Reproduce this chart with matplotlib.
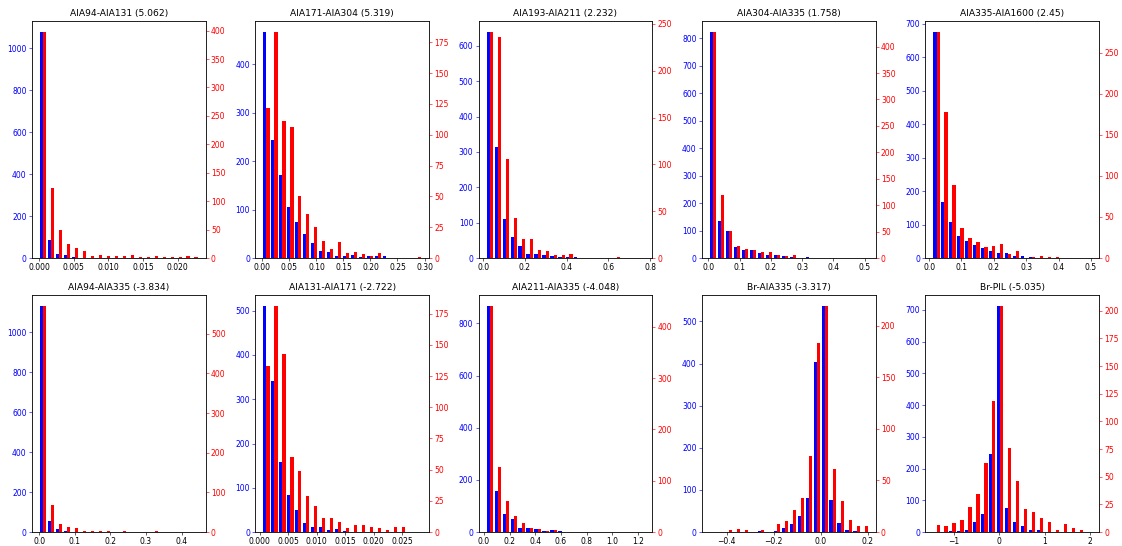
import numpy as np
import matplotlib
matplotlib.use("Agg")
import matplotlib.pyplot as plt

# Panel titles (pair name and its score)
titles = [
    "AIA94-AIA131 (5.062)", "AIA171-AIA304 (5.319)", "AIA193-AIA211 (2.232)",
    "AIA304-AIA335 (1.758)", "AIA335-AIA1600 (2.45)",
    "AIA94-AIA335 (-3.834)", "AIA131-AIA171 (-2.722)", "AIA211-AIA335 (-4.048)",
    "Br-AIA335 (-3.317)", "Br-PIL (-5.035)",
]

# Shared histogram range (20 bins) for each panel
bin_lo = [0.0, 0.0, 0.013, 0.0026, 0.0105, 0.0, 0.00049, 0.0138, -0.4738, -1.469]
bin_hi = [0.023, 0.295, 0.776, 0.512, 0.503, 0.447, 0.0284, 1.256, 0.2042, 2.035]

# Counts of the first group (left axis, blue)
blue_counts = [
    [1076, 86, 19, 14, 5, 2, 1, 1, 1, 0, 1, 0, 0, 1, 0, 0, 1, 0, 0, 0],
    [466, 244, 171, 105, 74, 49, 31, 14, 13, 4, 5, 6, 3, 5, 4, 4, 1, 1, 0, 0],
    [638, 313, 109, 60, 35, 11, 11, 8, 5, 3, 3, 2, 0, 1, 0, 0, 0, 0, 0, 0],
    [822, 134, 98, 39, 28, 30, 19, 11, 10, 7, 4, 1, 2, 0, 0, 0, 0, 0, 0, 0],
    [675, 168, 107, 66, 51, 39, 29, 21, 14, 14, 7, 5, 2, 1, 0, 0, 0, 0, 0, 0],
    [1130, 57, 15, 7, 2, 1, 0, 0, 0, 0, 0, 0, 0, 0, 0, 0, 0, 0, 0, 0],
    [510, 341, 159, 84, 50, 20, 12, 11, 5, 7, 3, 1, 0, 0, 0, 0, 0, 0, 0, 1],
    [866, 156, 70, 50, 17, 14, 13, 5, 8, 3, 0, 0, 0, 0, 0, 0, 0, 0, 0, 0],
    [1, 0, 0, 0, 0, 1, 2, 1, 3, 10, 19, 38, 80, 403, 536, 76, 22, 5, 2, 0],
    [0, 1, 4, 4, 6, 32, 57, 245, 711, 76, 32, 19, 6, 6, 1, 0, 0, 0, 0, 0],
]

# Counts of the second group (right axis, red)
red_counts = [
    [397, 124, 50, 25, 17, 13, 3, 6, 4, 4, 3, 5, 2, 1, 4, 2, 2, 2, 3, 1],
    [122, 183, 111, 106, 50, 36, 25, 14, 7, 13, 4, 5, 3, 2, 4, 0, 0, 0, 0, 1],
    [241, 236, 106, 43, 20, 20, 9, 7, 3.5, 3, 4, 0, 0, 0, 0, 0, 1, 0, 0, 0],
    [427, 120, 51, 23, 18, 15, 12, 11, 6, 4, 5, 1, 1, 0, 1, 0, 0, 0, 0, 0],
    [275, 178, 89, 36, 25, 19.5, 14, 15, 17.5, 5, 9, 0, 1, 2.5, 1, 1, 0, 0, 0, 0],
    [569, 68, 21, 12.6, 10, 3, 3, 3, 2, 0, 2, 0, 0, 0, 2, 0, 0, 0, 0, 0],
    [133, 181, 143, 60, 49, 29, 21, 11, 11, 8, 3, 6, 6, 4, 3, 2, 4, 4, 0, 0],
    [440, 126, 60, 31, 17, 8, 6, 2, 4, 0, 1, 0, 0, 0, 0, 0, 0, 0, 0, 0],
    [0, 0, 2, 3, 2, 0, 2, 0, 8, 11, 21, 33, 73.5, 183, 219, 61, 30, 12, 6, 6],
    [6, 5, 8, 11, 23, 34, 62, 118.5, 204, 76, 46, 21, 18, 13, 9, 2, 7, 4, 2, 0],
]

DPI = 55
fig, axes = plt.subplots(2, 5, figsize=(1122 / DPI, 546 / DPI), dpi=DPI)
fig.subplots_adjust(left=0.0285, right=0.9795, top=0.9615, bottom=0.0256,
                    wspace=0.287, hspace=0.156)

for ax, title, lo, hi, b, r in zip(axes.flat, titles, bin_lo, bin_hi,
                                    blue_counts, red_counts):
    edges = np.linspace(lo, hi, len(b) + 1)
    width = edges[1] - edges[0]
    left = edges[:-1]
    ax.bar(left + 0.1 * width, b, width=0.4 * width, align="edge",
           color="blue", linewidth=0)
    ax.tick_params(axis="y", colors="blue")
    ax2 = ax.twinx()
    ax2.bar(left + 0.5 * width, r, width=0.4 * width, align="edge",
            color="red", linewidth=0)
    ax2.tick_params(axis="y", colors="red")
    ax.set_title(title)

fig.savefig("out.png", dpi=DPI)
